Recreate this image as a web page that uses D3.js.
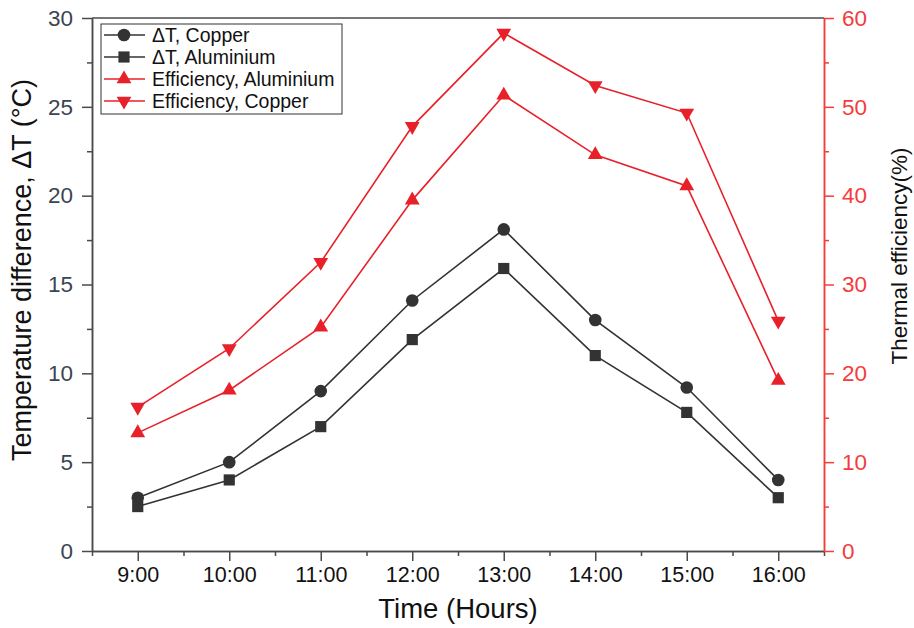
<!DOCTYPE html>
<html>
<head>
<meta charset="utf-8">
<script src="https://cdn.jsdelivr.net/npm/d3@7"></script>
<style>
  body { margin: 0; background: #fff; }
  text { font-family: "Liberation Sans", Arial, sans-serif; }
</style>
</head>
<body>
<div id="chart"></div>
<script>
// data
const hours = [9, 10, 11, 12, 13, 14, 15, 16];
const hourLabels = ["9:00", "10:00", "11:00", "12:00", "13:00", "14:00", "15:00", "16:00"];
const dtCopper = [3.0, 5.0, 9.0, 14.1, 18.1, 13.0, 9.2, 4.0];
const dtAluminium = [2.5, 4.0, 7.0, 11.9, 15.9, 11.0, 7.8, 3.0];
const effAluminium = [13.3, 18.1, 25.2, 39.5, 51.3, 44.6, 41.1, 19.2];
const effCopper = [16.2, 22.8, 32.5, 47.8, 58.3, 52.4, 49.3, 25.9];
const leftTicks = [0, 5, 10, 15, 20, 25, 30];
const rightTicks = [0, 10, 20, 30, 40, 50, 60];

const width = 914, height = 628;
const plotLeft = 92, plotRight = 824, plotTop = 18, plotBottom = 551;
const gray = "#4a4a4a", red = "#f43c3c", dark = "#333";

const svg = d3.select("#chart").append("svg")
    .attr("width", width)
    .attr("height", height);

const x = d3.scaleLinear().domain([8.5, 16.5]).range([plotLeft, plotRight]);
const yL = d3.scaleLinear().domain([0, 30]).range([plotBottom, plotTop]);
const yR = d3.scaleLinear().domain([0, 60]).range([plotBottom, plotTop]);

// top frame line
svg.append("line")
    .attr("x1", plotLeft).attr("x2", plotRight)
    .attr("y1", plotTop).attr("y2", plotTop)
    .attr("stroke", gray).attr("stroke-width", 1.5);

// x axis
const xAxis = svg.append("g").attr("transform", `translate(0,${plotBottom})`);
xAxis.append("g").call(d3.axisBottom(x).tickValues(d3.range(8.5, 16.6, 1)).tickSize(5).tickSizeOuter(0).tickFormat(""));
xAxis.append("g").call(d3.axisBottom(x).tickValues(hours).tickSize(10).tickSizeOuter(0)
    .tickFormat((d, i) => hourLabels[i]).tickPadding(6));
xAxis.selectAll("path, line").attr("stroke", gray).attr("stroke-width", 1.5);
xAxis.selectAll("text").attr("fill", "#111").style("font-size", "21.5px");

// left axis
const yAxisL = svg.append("g").attr("transform", `translate(${plotLeft},0)`);
yAxisL.append("g").call(d3.axisLeft(yL).tickValues(d3.range(2.5, 30, 5)).tickSize(5).tickSizeOuter(0).tickFormat(""));
yAxisL.append("g").call(d3.axisLeft(yL).tickValues(leftTicks).tickSize(10).tickSizeOuter(0).tickPadding(9));
yAxisL.selectAll("path, line").attr("stroke", gray).attr("stroke-width", 1.5);
yAxisL.selectAll("text").attr("fill", "#3a4552").style("font-size", "22.5px");

// right axis
const yAxisR = svg.append("g").attr("transform", `translate(${plotRight},0)`);
yAxisR.append("g").call(d3.axisRight(yR).tickValues(d3.range(5, 60, 10)).tickSize(5).tickSizeOuter(0).tickFormat(""));
yAxisR.append("g").call(d3.axisRight(yR).tickValues(rightTicks).tickSize(10).tickSizeOuter(0).tickPadding(8));
yAxisR.selectAll("path, line").attr("stroke", red).attr("stroke-width", 1.5);
yAxisR.selectAll("text").attr("fill", red).style("font-size", "22.5px");

// axis titles
svg.append("text")
    .attr("x", 458).attr("y", 618)
    .attr("text-anchor", "middle")
    .style("font-size", "27.5px").attr("fill", "#111")
    .text("Time (Hours)");

svg.append("text")
    .attr("transform", `translate(31,270) rotate(-90)`)
    .attr("text-anchor", "middle")
    .style("font-size", "27px").attr("fill", "#111")
    .text("Temperature difference, ΔT (°C)");

svg.append("text")
    .attr("transform", `translate(907,256) rotate(-90)`)
    .attr("text-anchor", "middle")
    .style("font-size", "22.5px").attr("fill", "#111")
    .text("Thermal efficiency(%)");

// series
const series = [
    { name: "ΔT, Copper", values: dtCopper, y: yL, color: dark, symbol: d3.symbolCircle, size: 125, rot: 0 },
    { name: "ΔT, Aluminium", values: dtAluminium, y: yL, color: dark, symbol: d3.symbolSquare, size: 125, rot: 0 },
    { name: "Efficiency, Aluminium", values: effAluminium, y: yR, color: "#e8202a", symbol: d3.symbolTriangle, size: 95, rot: 0 },
    { name: "Efficiency, Copper", values: effCopper, y: yR, color: "#e8202a", symbol: d3.symbolTriangle, size: 95, rot: 180 }
];

series.forEach(s => {
    const line = d3.line()
        .x((d, i) => x(hours[i]))
        .y(d => s.y(d));

    svg.append("path")
        .datum(s.values)
        .attr("d", line)
        .attr("fill", "none")
        .attr("stroke", s.color)
        .attr("stroke-width", 1.6);

    svg.selectAll(null)
        .data(s.values)
        .enter()
        .append("path")
        .attr("d", d3.symbol().type(s.symbol).size(s.size))
        .attr("transform", (d, i) => `translate(${x(hours[i])},${s.y(d)}) rotate(${s.rot})`)
        .attr("fill", s.color);
});

// legend
const legend = svg.append("g").attr("transform", "translate(101,24)");
legend.append("rect")
    .attr("width", 241).attr("height", 90)
    .attr("fill", "#fff").attr("stroke", dark).attr("stroke-width", 1);

const items = legend.selectAll("g.item")
    .data(series)
    .enter()
    .append("g")
    .attr("class", "item")
    .attr("transform", (d, i) => `translate(0,${11 + i * 22})`);

items.append("line")
    .attr("x1", 3).attr("x2", 44)
    .attr("stroke", d => d.color).attr("stroke-width", 1.6);

items.append("path")
    .attr("d", d => d3.symbol().type(d.symbol).size(d.size)())
    .attr("transform", d => `translate(23,0) rotate(${d.rot})`)
    .attr("fill", d => d.color);

items.append("text")
    .attr("x", 51).attr("y", 0)
    .attr("dy", "0.35em")
    .style("font-size", "19.5px").attr("fill", "#111")
    .text(d => d.name);
</script>
</body>
</html>
